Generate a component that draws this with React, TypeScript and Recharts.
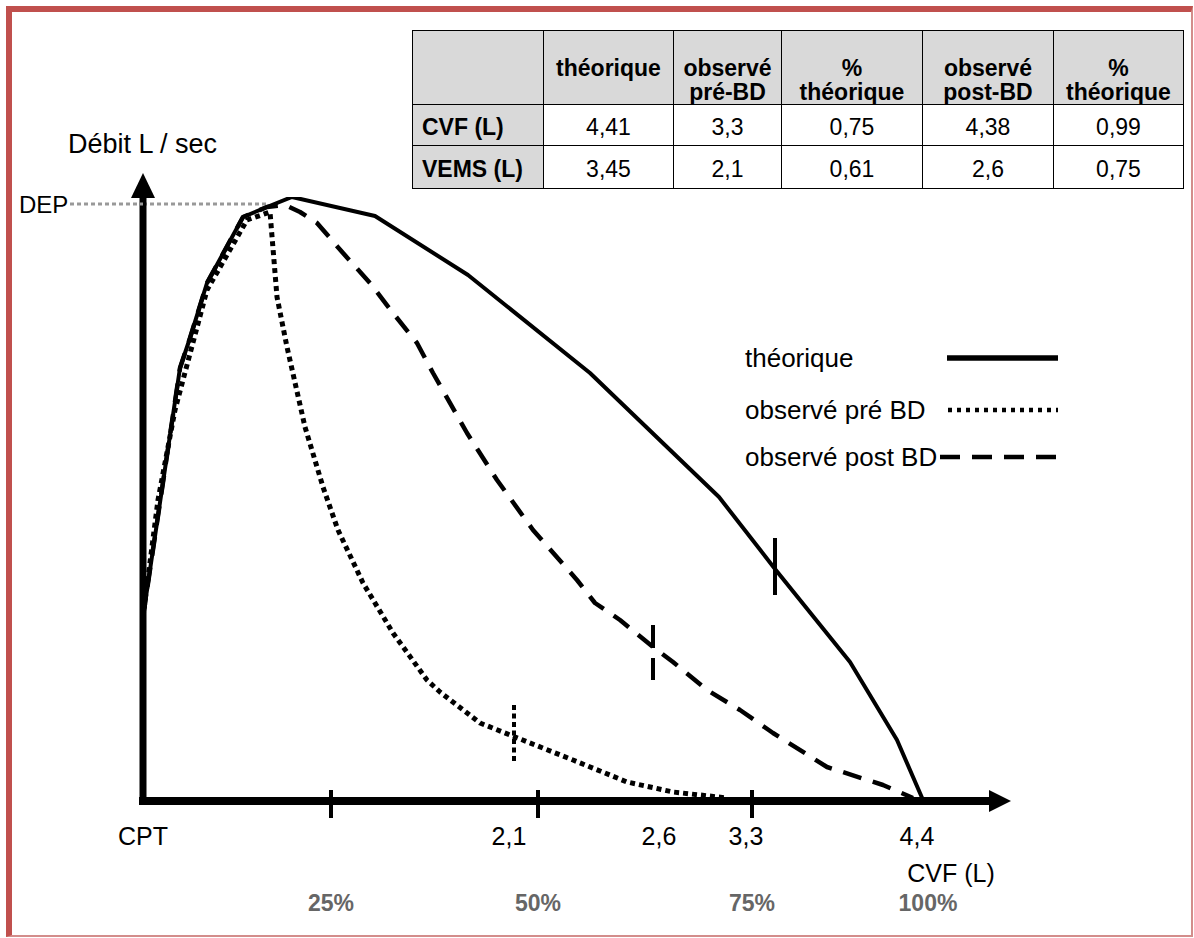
import { LineChart, Line, XAxis, YAxis, ReferenceLine, ReferenceDot, Legend } from "recharts"

const FONT = "'Liberation Sans', Arial, Helvetica, sans-serif"

// courbes débit-volume (unités du schéma : volume depuis CPT, débit depuis 0)
const theoriqueVol = [0, 30, 37, 47, 64, 100, 124, 149, 232, 325, 447, 576, 632, 707, 754, 780]
const theoriqueDebit = [184, 386, 433, 463, 518, 584, 594, 604, 585, 526, 428, 304, 232, 139, 61, 1]

const preBdVol = [0, 15, 32, 64, 104, 127, 134, 144, 162, 180, 195, 220, 250, 284, 297, 337, 372, 430, 484, 530, 584]
const preBdDebit = [184, 301, 391, 511, 581, 589, 504, 454, 374, 314, 271, 218, 168, 121, 109, 78, 64, 41, 19, 9, 3]

const postBdVol = [0, 30, 37, 47, 64, 100, 124, 142, 157, 174, 200, 227, 250, 274, 290, 324, 354, 390, 434, 452, 477, 510, 530, 564, 597, 630, 684, 740, 770]
const postBdDebit = [184, 386, 433, 463, 518, 584, 594, 596, 589, 578, 548, 518, 488, 458, 428, 368, 321, 271, 221, 198, 181, 154, 139, 111, 91, 68, 34, 16, 3]

// repères VEMS (un par courbe)
const vemsVol = [632, 371, 510]
const vemsLow = [206, 39, 121]
const vemsHigh = [263, 96, 176]

const seriesNames = ["théorique", "observé pré BD", "observé post BD"]

// axe des volumes
const cvfTicks = [0, 366, 516, 603, 774]
const cvfLabels = ["CPT", "2,1", "2,6", "3,3", "4,4"]
const quartileTicks = [188, 395, 609]
const pctTicks = [188, 395, 609, 785]
const pctLabels = ["25%", "50%", "75%", "100%"]
const depDebit = 597

// tableau
const headerLines = [[""], ["théorique"], ["observé", "pré-BD"], ["%", "théorique"], ["observé", "post-BD"], ["%", "théorique"]]
const rowLabels = ["CVF (L)", "VEMS (L)"]
const cvfRow = ["4,41", "3,3", "0,75", "4,38", "0,99"]
const vemsRow = ["3,45", "2,1", "0,61", "2,6", "0,75"]

const colWidths = [131, 130, 108, 141, 131, 130]

const seriesStyle: Record<string, any> = {
  "théorique": { width: 4, dash: undefined, legendWidth: 5.5, legendDash: undefined, legendX1: 202 },
  "observé pré BD": { width: 5, dash: "5 4", legendWidth: 4.5, legendDash: "4 5", legendX1: 203 },
  "observé post BD": { width: 4.5, dash: "19 12", legendWidth: 4.5, legendDash: "20 12", legendX1: 195 },
}
const vemsDash = [undefined, "5 3.5", "23 10"]
const legendRowY = [28, 80, 127]

const toPoints = (xs: number[], ys: number[]) => xs.map((x, i) => ({ vol: x, debit: ys[i] }))
const seriesData = [
  toPoints(theoriqueVol, theoriqueDebit),
  toPoints(preBdVol, preBdDebit),
  toPoints(postBdVol, postBdDebit),
]

const allXTicks = Array.from(new Set([...cvfTicks, ...quartileTicks, ...pctTicks])).sort((a, b) => a - b)

function XTick(props: any) {
  const { x, y, payload } = props
  const v = payload.value
  const ci = cvfTicks.indexOf(v)
  const pi = pctTicks.indexOf(v)
  return (
    <g>
      {quartileTicks.includes(v) && <line x1={x} x2={x} y1={y - 11} y2={y + 17} stroke="#000" strokeWidth={4} />}
      {ci >= 0 && (
        <text x={x} y={y + 44} textAnchor="middle" fontSize={25} fontFamily={FONT} fill="#000">
          {cvfLabels[ci]}
        </text>
      )}
      {pi >= 0 && (
        <text x={x} y={y + 110} textAnchor="middle" fontSize={23} fontWeight="bold" fontFamily={FONT} fill="#666">
          {pctLabels[pi]}
        </text>
      )}
    </g>
  )
}

function YTick(props: any) {
  const { x, y } = props
  return (
    <g>
      <text x={x - 124} y={y + 9} fontSize={24} fontFamily={FONT} fill="#000">DEP</text>
      <line x1={x - 73} x2={x} y1={y} y2={y} stroke="#999" strokeWidth={3} strokeDasharray="4 3" />
    </g>
  )
}

const ArrowRight = (p: any) => (
  <polygon points={`${p.cx - 1},${p.cy - 11} ${p.cx + 21},${p.cy} ${p.cx - 1},${p.cy + 11}`} fill="#000" />
)
const ArrowUp = (p: any) => (
  <polygon points={`${p.cx - 12},${p.cy + 1} ${p.cx},${p.cy - 24} ${p.cx + 12},${p.cy + 1}`} fill="#000" />
)

function LegendBox(props: any) {
  const payload = props.payload || []
  return (
    <svg width={330} height={150} style={{ display: "block", overflow: "visible" }}>
      {payload.map((entry: any) => {
        const st = seriesStyle[entry.value]
        const cy = legendRowY[seriesNames.indexOf(entry.value)]
        return (
          <g key={entry.value}>
            <text x={0} y={cy + 9} fontSize={26} fontFamily={FONT} fill="#000">{entry.value}</text>
            <line x1={st.legendX1} x2={313} y1={cy} y2={cy} stroke="#000" strokeWidth={st.legendWidth} strokeDasharray={st.legendDash} />
          </g>
        )
      })}
    </svg>
  )
}

function ResultsTable() {
  const border = "1.5px solid #000"
  const grey = "#d9d9d9"
  const rows = [cvfRow, vemsRow]
  return (
    <table
      style={{
        position: "absolute", left: 412, top: 30, width: 771, borderCollapse: "collapse",
        tableLayout: "fixed", fontFamily: FONT, fontSize: 23, color: "#000",
      }}
    >
      <colgroup>
        {colWidths.map((w, i) => <col key={i} style={{ width: w }} />)}
      </colgroup>
      <tbody>
        <tr style={{ height: 72 }}>
          {headerLines.map((lines, i) => (
            <td key={i} style={{ border, background: grey, fontWeight: "bold", textAlign: "center", verticalAlign: "top", padding: "25px 0 0 0", lineHeight: "24px" }}>
              {lines.map((l, j) => <div key={j}>{l}</div>)}
            </td>
          ))}
        </tr>
        {rows.map((row, r) => (
          <tr key={r} style={{ height: r === 0 ? 41 : 43 }}>
            <td style={{ border, background: grey, fontWeight: "bold", padding: "5px 0 0 9px" }}>{rowLabels[r]}</td>
            {row.map((v, i) => (
              <td key={i} style={{ border, textAlign: "center", padding: "5px 0 0 0" }}>{v}</td>
            ))}
          </tr>
        ))}
      </tbody>
    </table>
  )
}

export default function App() {
  return (
    <div style={{ position: "absolute", left: 0, top: 0, width: 1194, height: 938, background: "#fff", fontFamily: FONT }}>
      <div
        style={{
          position: "absolute", left: 6, top: 6, width: 1187, height: 931, boxSizing: "border-box",
          borderLeft: "6px solid #c0504d", borderTop: "6px solid #c0504d",
          borderRight: "2px solid #d38d8b", borderBottom: "2px solid #d38d8b",
        }}
      />
      <LineChart width={1194} height={938} margin={{ top: 197, right: 204, bottom: 27, left: 43 }}>
        <XAxis
          type="number"
          dataKey="vol"
          domain={[0, 847]}
          allowDataOverflow
          ticks={allXTicks}
          interval={0}
          tick={XTick}
          tickLine={false}
          tickSize={0}
          tickMargin={0}
          height={110}
          axisLine={{ stroke: "#000", strokeWidth: 8, strokeLinecap: "square" }}
          label={(p: any) => (
            <text x={p.viewBox.x + 808} y={p.viewBox.y + 81} textAnchor="middle" fontSize={25} fontFamily={FONT} fill="#000">
              CVF (L)
            </text>
          )}
        />
        <YAxis
          type="number"
          dataKey="debit"
          domain={[0, 604]}
          allowDataOverflow
          ticks={[depDebit]}
          tick={YTick}
          tickLine={false}
          tickSize={0}
          tickMargin={0}
          width={100}
          axisLine={{ stroke: "#000", strokeWidth: 7 }}
          label={(p: any) => (
            <text x={p.viewBox.x + 25} y={p.viewBox.y - 44} fontSize={27} fontFamily={FONT} fill="#000">
              Débit L / sec
            </text>
          )}
        />
        <ReferenceLine
          segment={[{ x: 0, y: depDebit }, { x: 124, y: depDebit }]}
          stroke="#999"
          strokeWidth={3}
          strokeDasharray="4 3"
          ifOverflow="visible"
        />
        {seriesNames.map((name, i) => (
          <Line
            key={name}
            name={name}
            data={seriesData[i]}
            dataKey="debit"
            type="linear"
            stroke="#000"
            strokeWidth={seriesStyle[name].width}
            strokeDasharray={seriesStyle[name].dash}
            strokeLinejoin="round"
            dot={false}
            activeDot={false}
            isAnimationActive={false}
          />
        ))}
        {vemsVol.map((v, i) => (
          <ReferenceLine
            key={"vems" + i}
            segment={[{ x: v, y: vemsHigh[i] }, { x: v, y: vemsLow[i] }]}
            stroke="#000"
            strokeWidth={4}
            strokeDasharray={vemsDash[i]}
            ifOverflow="visible"
          />
        ))}
        <ReferenceDot x={847} y={0} ifOverflow="visible" shape={ArrowRight} />
        <ReferenceDot x={0} y={604} ifOverflow="visible" shape={ArrowUp} />
        <Legend
          layout="vertical"
          align="center"
          verticalAlign="middle"
          wrapperStyle={{ position: "absolute", left: 745, top: 330, width: 330 }}
          content={LegendBox}
        />
      </LineChart>
      <ResultsTable />
    </div>
  )
}
